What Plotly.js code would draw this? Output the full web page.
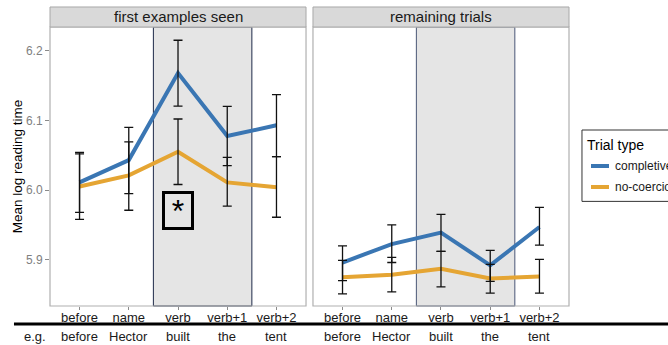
<!DOCTYPE html>
<html>
<head>
<meta charset="utf-8">
<script src="https://cdn.plot.ly/plotly-3.0.1.min.js"></script>
<style>html,body{margin:0;padding:0;background:#fff;}#chart{width:668px;height:345px;}</style>
</head>
<body>
<div id="chart"></div>
<script>
// ---- data ----
const regions = ['before', 'name', 'verb', 'verb+1', 'verb+2'];
const examples = ['before', 'Hector', 'built', 'the', 'tent'];
const panelTitles = ['first examples seen', 'remaining trials'];
const seriesNames = ['completive', 'no-coercion'];
const legendTitle = 'Trial type';

const firstCompletive    = [6.011, 6.043, 6.168, 6.0775, 6.093];
const firstCompletiveHi  = [6.054, 6.090, 6.215, 6.120, 6.137];
const firstCompletiveLo  = [5.968, 5.995, 6.1205, 6.035, 6.048];
const firstNoCoercion    = [6.005, 6.021, 6.055, 6.011, 6.004];
const firstNoCoercionHi  = [6.052, 6.069, 6.102, 6.047, 6.048];
const firstNoCoercionLo  = [5.958, 5.971, 6.008, 5.977, 5.961];

const restCompletive     = [5.896, 5.9225, 5.939, 5.892, 5.947];
const restCompletiveHi   = [5.920, 5.950, 5.965, 5.9135, 5.975];
const restCompletiveLo   = [5.870, 5.896, 5.912, 5.869, 5.921];
const restNoCoercion     = [5.875, 5.8785, 5.887, 5.873, 5.876];
const restNoCoercionHi   = [5.899, 5.9034, 5.912, 5.8934, 5.9006];
const restNoCoercionLo   = [5.851, 5.854, 5.861, 5.852, 5.852];

const yTicks = [5.9, 6.0, 6.1, 6.2];

// ---- styles ----
const BLUE = '#3a76b3';
const ORANGE = '#e5a533';
const COLORS = [BLUE, ORANGE];
const FONT = 'Liberation Sans, Arial, sans-serif';

function lineTrace(y, name, color, xa) {
  return {x: regions, y: y, name: name, type: 'scatter', mode: 'lines',
    line: {color: color, width: 4}, xaxis: xa, yaxis: 'y',
    showlegend: false, hoverinfo: 'skip'};
}
function errTrace(y, hi, lo, xa) {
  return {x: regions, y: y, type: 'scatter', mode: 'markers',
    marker: {size: 1, opacity: 0}, xaxis: xa, yaxis: 'y', showlegend: false,
    error_y: {type: 'data', symmetric: false,
      array: hi.map((v, i) => v - y[i]), arrayminus: lo.map((v, i) => y[i] - v),
      color: '#111', thickness: 1.3, width: 4.5},
    hoverinfo: 'skip'};
}

const data = [
  lineTrace(firstCompletive, seriesNames[0], BLUE, 'x'),
  lineTrace(firstNoCoercion, seriesNames[1], ORANGE, 'x'),
  lineTrace(restCompletive, seriesNames[0], BLUE, 'x2'),
  lineTrace(restNoCoercion, seriesNames[1], ORANGE, 'x2'),
  errTrace(firstCompletive, firstCompletiveHi, firstCompletiveLo, 'x'),
  errTrace(firstNoCoercion, firstNoCoercionHi, firstNoCoercionLo, 'x'),
  errTrace(restCompletive, restCompletiveHi, restCompletiveLo, 'x2'),
  errTrace(restNoCoercion, restNoCoercionHi, restNoCoercionLo, 'x2')
];

const xCommon = {
  type: 'category', categoryorder: 'array', categoryarray: regions,
  range: [-0.6, 4.6], showgrid: false, zeroline: false, showline: false,
  ticks: 'outside', ticklen: 3, tickcolor: '#8a8a8a', tickwidth: 1,
  ticklabelstandoff: -4,
  tickfont: {family: FONT, size: 13, color: '#1a1a1a'}, fixedrange: true
};

const shapes = [];
const annotations = [];
['x', 'x2'].forEach((xa, p) => {
  // shaded verb region
  shapes.push({type: 'rect', xref: xa, yref: 'paper', x0: 1.5, x1: 3.5, y0: 0, y1: 1,
    fillcolor: '#e5e5e5', line: {color: p === 0 ? '#1e2a48' : '#4a5676', width: 1}, layer: 'below'});
  // panel border
  shapes.push({type: 'rect', xref: xa + ' domain', yref: 'paper', x0: 0, x1: 1, y0: 0, y1: 1,
    fillcolor: 'rgba(0,0,0,0)', line: {color: '#b0b0b0', width: 1.2}, layer: 'above'});
  // strip
  shapes.push({type: 'rect', xref: xa + ' domain', yref: 'paper', x0: 0, x1: 1, y0: 1, y1: 1.0717,
    fillcolor: '#d9d9d9', line: {color: '#a8a8a8', width: 1}});
  annotations.push({xref: xa + ' domain', yref: 'paper', x: 0.5, y: 1.036, text: panelTitles[p],
    showarrow: false, xanchor: 'center', yanchor: 'middle',
    font: {family: FONT, size: 15, color: '#1a1a1a'}});
  // example words
  regions.forEach((r, i) => {
    annotations.push({xref: xa, yref: 'paper', x: r, y: -0.111, text: examples[i], showarrow: false,
      xanchor: 'center', yanchor: 'middle', font: {family: FONT, size: 13, color: '#1a1a1a'}});
  });
});
// separator line
shapes.push({type: 'line', xref: 'paper', yref: 'paper', x0: -0.0694, x1: 1.2, y0: -0.0645, y1: -0.0645,
  line: {color: '#000', width: 3}});
annotations.push({xref: 'paper', yref: 'paper', x: -0.029, y: -0.111, text: 'e.g.', showarrow: false,
  xanchor: 'center', yanchor: 'middle', font: {family: FONT, size: 13, color: '#1a1a1a'}});
// significance box
annotations.push({xref: 'x', yref: 'y', x: regions[2], y: 5.971, text: '*', showarrow: false,
  xanchor: 'center', yanchor: 'middle', width: 26, height: 33, borderpad: 0,
  bordercolor: '#000', borderwidth: 3, bgcolor: '#e5e5e5',
  font: {family: FONT, size: 32, color: '#000'}});

// legend (drawn in paper coordinates, partly outside the window as in the reference)
shapes.push({type: 'rect', xref: 'paper', yref: 'paper', x0: 1.025, x1: 1.26, y0: 0.375, y1: 0.6308,
  fillcolor: '#fff', line: {color: '#333', width: 1}});
annotations.push({xref: 'paper', yref: 'paper', x: 1.0308, y: 0.5771, text: legendTitle, showarrow: false,
  xanchor: 'left', yanchor: 'middle', font: {family: FONT, size: 14, color: '#000'}});
const legendY = [0.5018, 0.4265];
seriesNames.forEach((nm, i) => {
  shapes.push({type: 'line', xref: 'paper', yref: 'paper', x0: 1.0424, x1: 1.0771,
    y0: legendY[i], y1: legendY[i], line: {color: COLORS[i], width: 4}});
  annotations.push({xref: 'paper', yref: 'paper', x: 1.0848, y: legendY[i], text: nm, showarrow: false,
    xanchor: 'left', yanchor: 'middle', font: {family: FONT, size: 12, color: '#1a1a1a'}});
});

const layout = {
  width: 668, height: 345,
  margin: {l: 50, r: 99, t: 27, b: 39, autoexpand: false},
  paper_bgcolor: '#fff', plot_bgcolor: 'rgba(0,0,0,0)',
  font: {family: FONT, color: '#1a1a1a'},
  showlegend: false,
  xaxis: Object.assign({}, xCommon, {domain: [0, 0.4933], anchor: 'y'}),
  xaxis2: Object.assign({}, xCommon, {domain: [0.5067, 1], anchor: 'y'}),
  yaxis: {range: [5.8336, 6.234], tickvals: yTicks, tickformat: '.1f',
    showgrid: false, zeroline: false, showline: false,
    ticks: 'outside', ticklen: 4, tickcolor: '#8a8a8a',
    tickfont: {family: FONT, size: 12, color: '#808080'},
    title: {text: 'Mean log reading time', standoff: 0, font: {family: FONT, size: 13.5, color: '#000'}},
    fixedrange: true},
  shapes: shapes,
  annotations: annotations
};

Plotly.newPlot('chart', data, layout, {displayModeBar: false, staticPlot: true});
</script>
</body>
</html>
